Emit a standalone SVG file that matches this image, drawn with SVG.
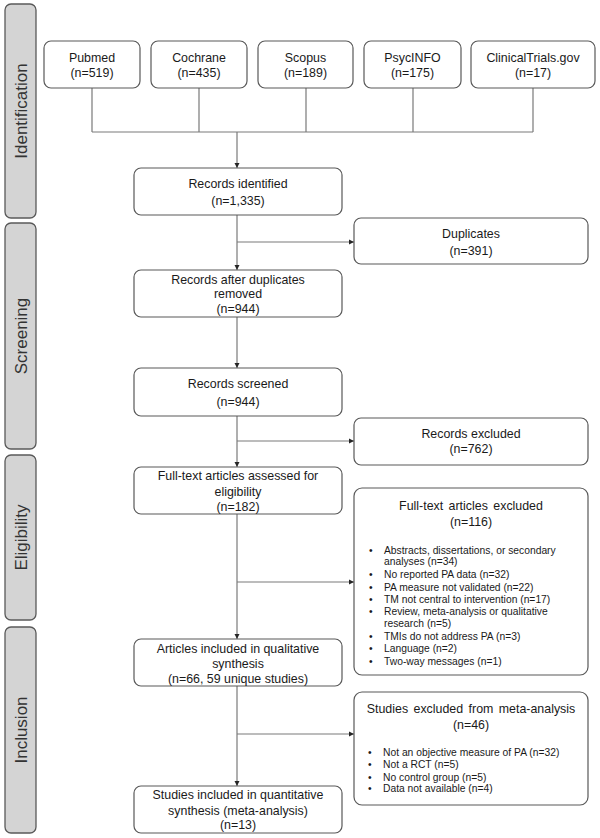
<svg xmlns="http://www.w3.org/2000/svg" width="600" height="838" viewBox="0 0 600 838">
<defs>
<marker id="ah" markerWidth="6" markerHeight="6" refX="5" refY="3" orient="auto" markerUnits="userSpaceOnUse">
<path d="M0,0.5 L5,3 L0,5.5 Z" fill="#262626"/>
</marker>
<style>
.side{fill:#d4d4d4;stroke:#595959;stroke-width:1.3}
.sl{font-family:"Liberation Sans",Arial,sans-serif;font-size:17px;fill:#333;text-anchor:middle}
.box{fill:#fff;stroke:#595959;stroke-width:1.2}
.t{font-family:"Liberation Sans",Arial,sans-serif;font-size:12.4px;fill:#1a1a1a;text-anchor:middle}
.b{font-family:"Liberation Sans",Arial,sans-serif;font-size:10.3px;fill:#1a1a1a}
.ln{fill:none;stroke:#7a7a7a;stroke-width:1.2}
.ar{fill:none;stroke:#7a7a7a;stroke-width:1.2;marker-end:url(#ah)}
</style>
</defs>
<rect width="600" height="838" fill="#fff"/>

<g id="phase-identification"><rect class="side" x="5" y="4" width="31" height="214" rx="6"/><text class="sl" transform="translate(26.5,111) rotate(-90)">Identification</text></g>
<g id="phase-screening"><rect class="side" x="5" y="223" width="31" height="226" rx="6"/><text class="sl" transform="translate(26.5,336) rotate(-90)">Screening</text></g>
<g id="phase-eligibility"><rect class="side" x="5" y="455" width="31" height="165" rx="6"/><text class="sl" transform="translate(26.5,537.5) rotate(-90)">Eligibility</text></g>
<g id="phase-inclusion"><rect class="side" x="5" y="627" width="31" height="206" rx="6"/><text class="sl" transform="translate(26.5,730) rotate(-90)">Inclusion</text></g>

<g id="connectors">
<path class="ln" d="M92,88 V132 M199,88 V132 M306,88 V132 M413,88 V132 M533,88 V132 M92,132 H533"/>
<path class="ar" d="M237,132 V168"/>
<path class="ar" d="M237,215 V270"/>
<path class="ar" d="M237,242 H354"/>
<path class="ar" d="M237,317 V368"/>
<path class="ar" d="M237,416 V467"/>
<path class="ar" d="M237,441 H354"/>
<path class="ar" d="M237,514 V639"/>
<path class="ar" d="M237,582 H354"/>
<path class="ar" d="M237,686 V786"/>
<path class="ar" d="M237,734 H354"/>
</g>

<g id="pubmed"><rect class="box" x="44" y="41" width="96" height="47" rx="7"/><text class="t" x="92" y="61.5">Pubmed</text><text class="t" x="92" y="77">(n=519)</text></g>
<g id="cochrane"><rect class="box" x="151" y="41" width="96" height="47" rx="7"/><text class="t" x="199" y="61.5">Cochrane</text><text class="t" x="199" y="77">(n=435)</text></g>
<g id="scopus"><rect class="box" x="258" y="41" width="95" height="47" rx="7"/><text class="t" x="305.5" y="61.5">Scopus</text><text class="t" x="305.5" y="77">(n=189)</text></g>
<g id="psycinfo"><rect class="box" x="364" y="41" width="97" height="47" rx="7"/><text class="t" x="412.5" y="61.5">PsycINFO</text><text class="t" x="412.5" y="77">(n=175)</text></g>
<g id="clinicaltrials"><rect class="box" x="471" y="41" width="124" height="47" rx="7"/><text class="t" x="533" y="61.5">ClinicalTrials.gov</text><text class="t" x="533" y="77">(n=17)</text></g>

<g id="records-identified"><rect class="box" x="134" y="168" width="208" height="47" rx="7"/><text class="t" x="238" y="188">Records identified</text><text class="t" x="238" y="204.5">(n=1,335)</text></g>
<g id="duplicates"><rect class="box" x="354" y="218" width="234" height="46" rx="7"/><text class="t" x="471" y="238">Duplicates</text><text class="t" x="471" y="254.5">(n=391)</text></g>
<g id="records-after-duplicates"><rect class="box" x="134" y="270" width="208" height="47" rx="7"/><text class="t" x="238" y="283.5">Records after duplicates</text><text class="t" x="238" y="298">removed</text><text class="t" x="238" y="312.5">(n=944)</text></g>
<g id="records-screened"><rect class="box" x="134" y="368" width="208" height="48" rx="7"/><text class="t" x="238" y="388">Records screened</text><text class="t" x="238" y="405.5">(n=944)</text></g>
<g id="records-excluded"><rect class="box" x="354" y="418" width="234" height="47" rx="7"/><text class="t" x="471" y="437.5">Records excluded</text><text class="t" x="471" y="453">(n=762)</text></g>
<g id="fulltext-assessed"><rect class="box" x="134" y="467" width="208" height="47" rx="7"/><text class="t" x="238" y="480">Full-text articles assessed for</text><text class="t" x="238" y="495.5">eligibility</text><text class="t" x="238" y="510.5">(n=182)</text></g>
<g id="fulltext-excluded"><rect class="box" x="354" y="488" width="234" height="187" rx="8"/>
<text class="t" x="471" y="510" style="word-spacing:2px">Full-text articles excluded</text><text class="t" x="471" y="526">(n=116)</text>
<g class="b">
<text x="369" y="554">•</text><text x="384" y="554">Abstracts, dissertations, or secondary</text>
<text x="384" y="565">analyses (n=34)</text>
<text x="369" y="578">•</text><text x="384" y="578">No reported PA data (n=32)</text>
<text x="369" y="590.5">•</text><text x="384" y="590.5">PA measure not validated (n=22)</text>
<text x="369" y="603">•</text><text x="384" y="603">TM not central to intervention (n=17)</text>
<text x="369" y="615">•</text><text x="384" y="615">Review, meta-analysis or qualitative</text>
<text x="384" y="627">research (n=5)</text>
<text x="369" y="640">•</text><text x="384" y="640">TMIs do not address PA (n=3)</text>
<text x="369" y="652">•</text><text x="384" y="652">Language (n=2)</text>
<text x="369" y="664.5">•</text><text x="384" y="664.5">Two-way messages (n=1)</text>
</g></g>
<g id="articles-included"><rect class="box" x="134" y="639" width="208" height="47" rx="7"/><text class="t" x="238" y="652.5">Articles included in qualitative</text><text class="t" x="238" y="667.5">synthesis</text><text class="t" x="238" y="682.5">(n=66, 59 unique studies)</text></g>
<g id="studies-excluded"><rect class="box" x="354" y="692" width="234" height="113" rx="8"/>
<text class="t" x="471" y="712.5" style="word-spacing:2px">Studies excluded from meta-analysis</text><text class="t" x="471" y="728.5">(n=46)</text>
<g class="b">
<text x="368" y="756">•</text><text x="383" y="756">Not an objective measure of PA (n=32)</text>
<text x="368" y="768">•</text><text x="383" y="768">Not a RCT (n=5)</text>
<text x="368" y="780.5">•</text><text x="383" y="780.5">No control group (n=5)</text>
<text x="368" y="792">•</text><text x="383" y="792">Data not available (n=4)</text>
</g></g>
<g id="studies-included"><rect class="box" x="134" y="786" width="208" height="47" rx="7"/><text class="t" x="238" y="799">Studies included in quantitative</text><text class="t" x="238" y="815">synthesis (meta-analysis)</text><text class="t" x="238" y="829">(n=13)</text></g>
</svg>
